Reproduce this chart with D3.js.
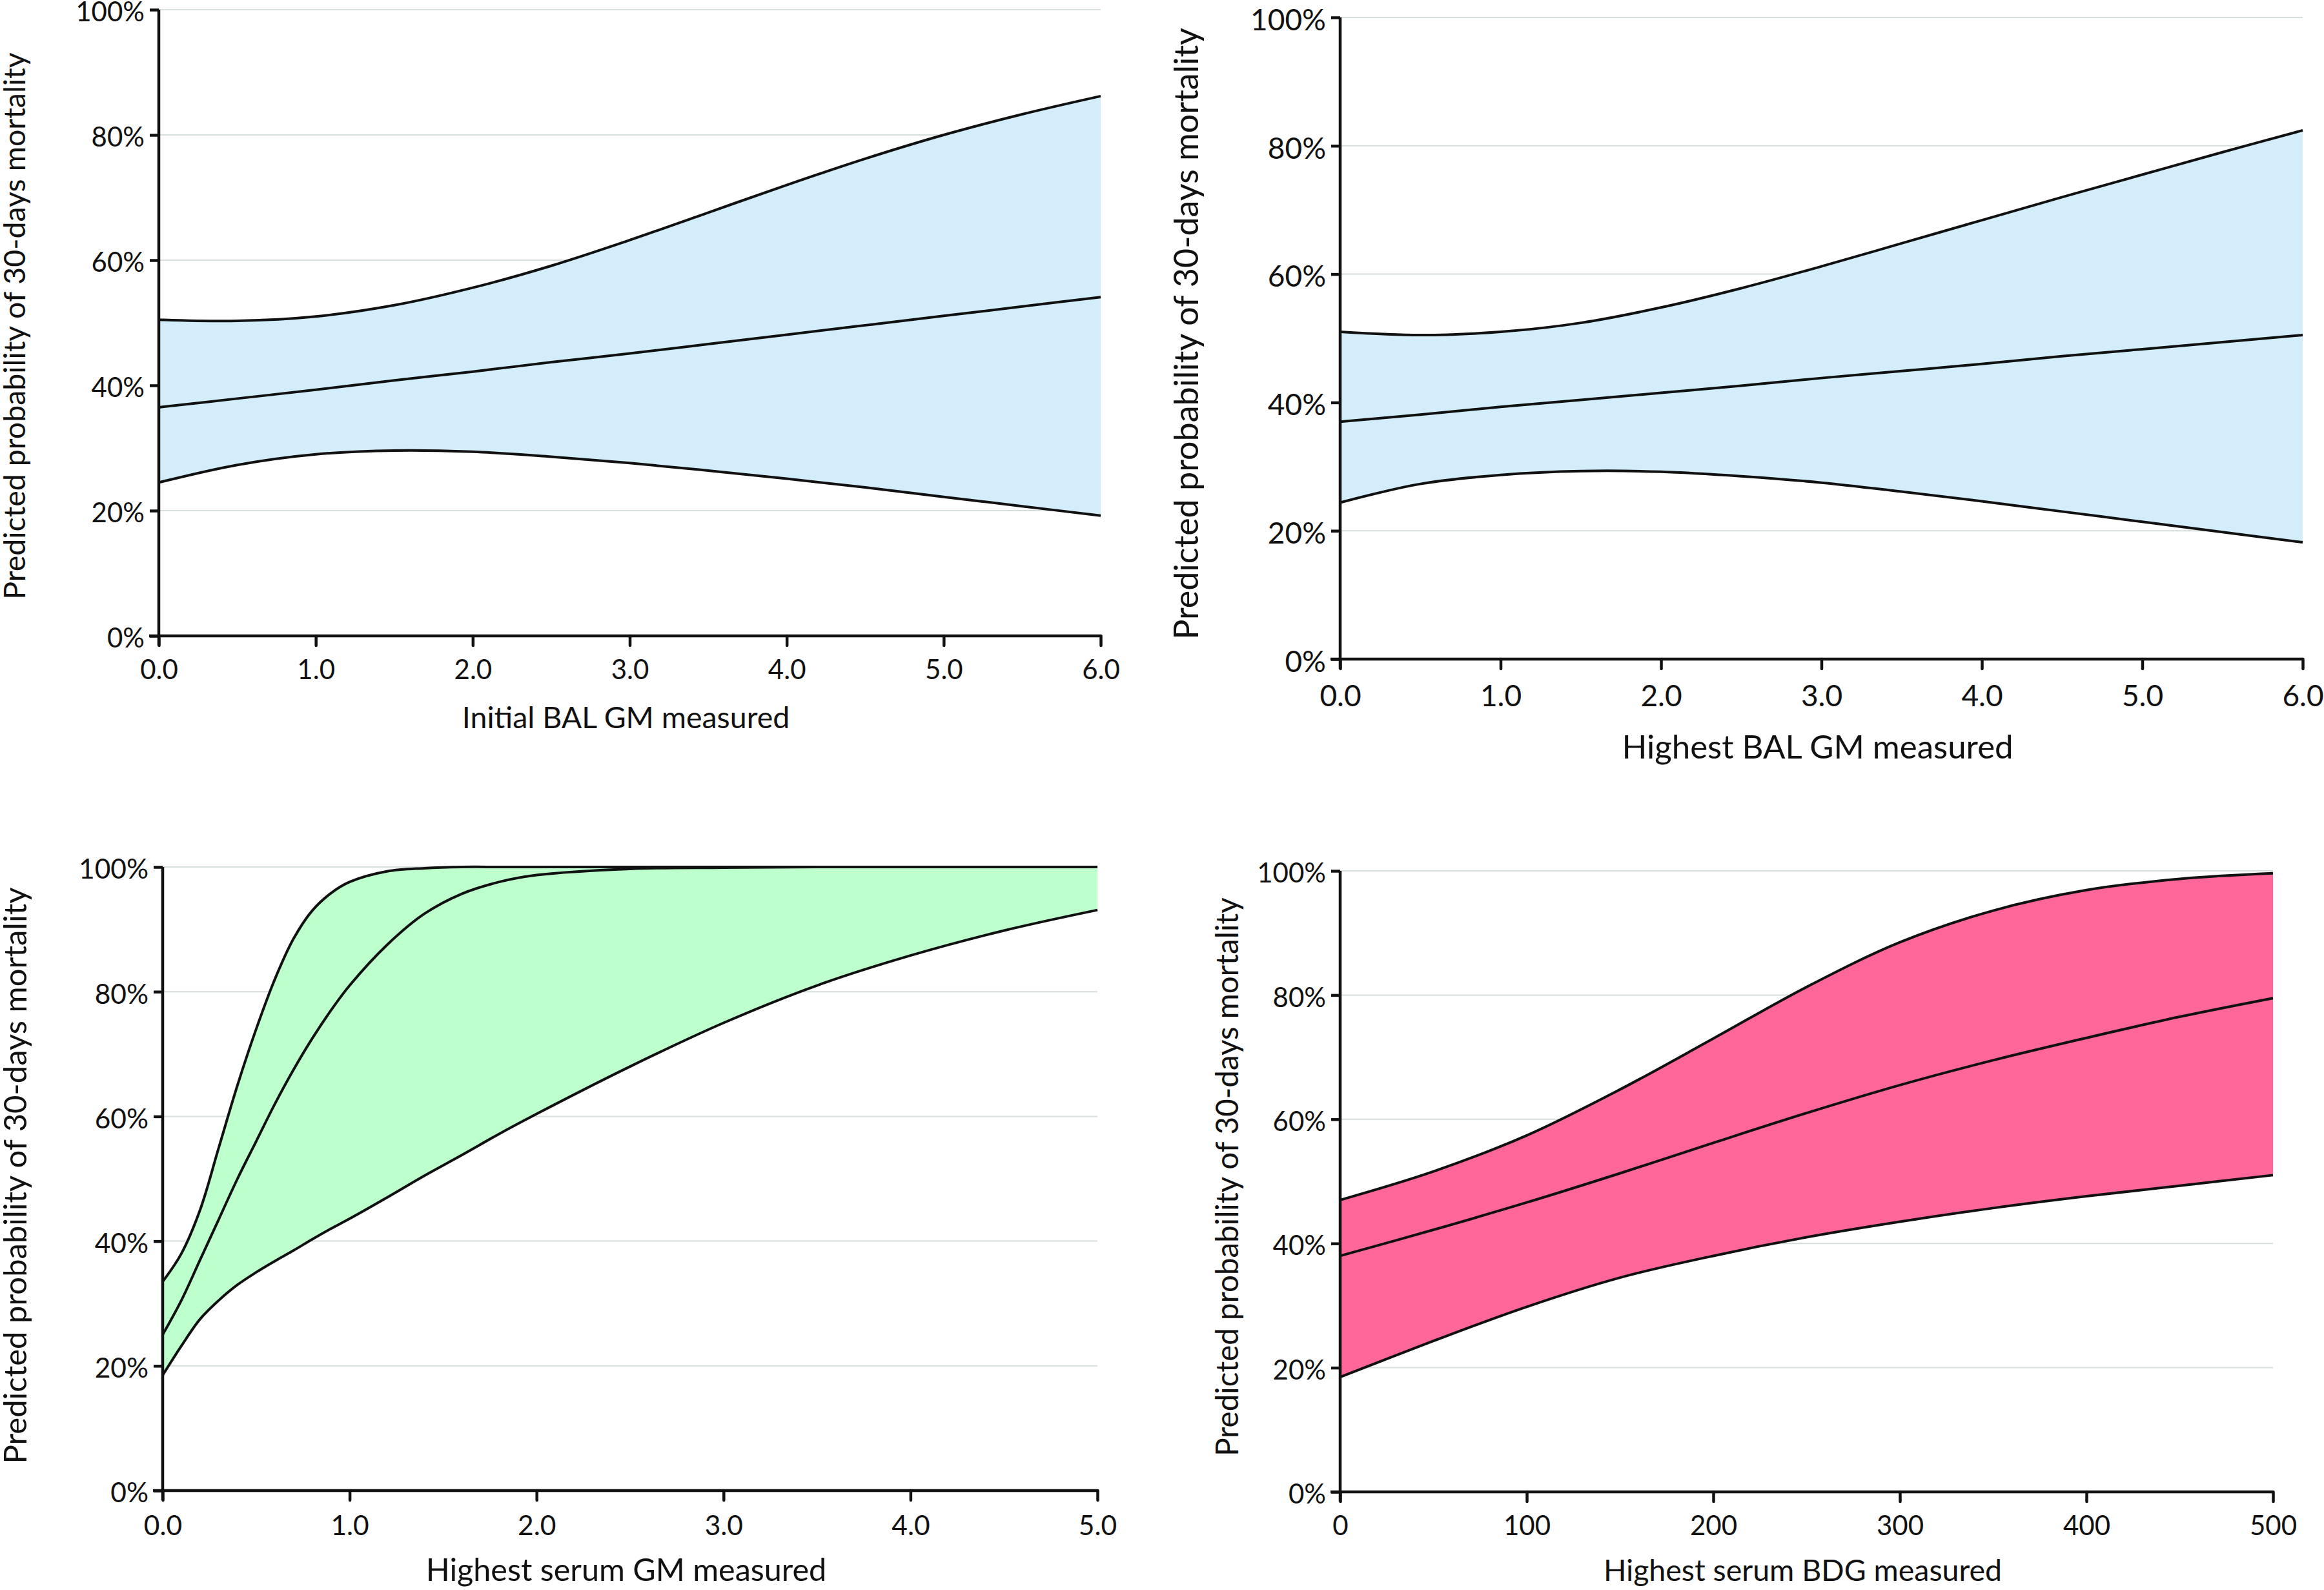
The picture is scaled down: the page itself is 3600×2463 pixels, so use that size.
<!DOCTYPE html>
<html>
<head>
<meta charset="utf-8">
<script src="https://cdn.jsdelivr.net/npm/d3@7"></script>
<style>
  html, body { margin: 0; padding: 0; background: #fff; }
  svg { display: block; }
  text { font-family: Lato, "Open Sans", sans-serif; fill: #111; }
</style>
</head>
<body>
<svg id="chart" width="3600" height="2463"></svg>
<script>
// ---------- DATA ----------
const yTicks = [0, 20, 40, 60, 80, 100];
const yTitle = "Predicted probability of 30-days mortality";

// Panel 1: Initial BAL GM
const p1Title = "Initial BAL GM measured";
const p1XTicks = [0, 1, 2, 3, 4, 5, 6];
const p1X     = [0, 0.5, 1, 1.5, 2, 2.5, 3, 3.5, 4, 4.5, 5, 5.5, 6];
const p1Upper = [50.5, 50.3, 51.0, 52.8, 55.6, 59.1, 63.2, 67.6, 72.0, 76.2, 80.0, 83.3, 86.2];
const p1Mid   = [36.5, 37.9, 39.3, 40.8, 42.2, 43.7, 45.1, 46.6, 48.1, 49.6, 51.1, 52.6, 54.1];
const p1Lower = [24.5, 27.3, 29, 29.6, 29.4, 28.6, 27.6, 26.4, 25.1, 23.7, 22.2, 20.7, 19.2];

// Panel 2: Highest BAL GM
const p2Title = "Highest BAL GM measured";
const p2XTicks = [0, 1, 2, 3, 4, 5, 6];
const p2X     = [0, 0.5, 1, 1.5, 2, 2.5, 3, 3.5, 4, 4.5, 5, 5.5, 6];
const p2Upper = [51, 50.5, 51, 52.4, 54.8, 57.8, 61.2, 64.8, 68.4, 72, 75.5, 79, 82.4];
const p2Mid   = [37, 38.1, 39.3, 40.4, 41.5, 42.6, 43.8, 44.9, 46, 47.2, 48.3, 49.4, 50.5];
const p2Lower = [24.4, 27.3, 28.7, 29.3, 29.2, 28.5, 27.5, 26.1, 24.6, 23, 21.4, 19.8, 18.2];

// Panel 3: Highest serum GM
const p3Title = "Highest serum GM measured";
const p3XTicks = [0, 1, 2, 3, 4, 5];
const p3X     = [0, 0.1, 0.2, 0.3, 0.4, 0.5, 0.6, 0.7, 0.8, 0.9, 1.0, 1.2, 1.4, 1.6, 1.8, 2.0, 2.5, 3.0, 3.5, 4.0, 4.5, 5.0];
const p3Upper = [33.5, 38, 45, 55, 65, 74, 82, 88.5, 93, 95.8, 97.6, 99.3, 99.8, 100, 100, 100, 100, 100, 100, 100, 100, 100];
const p3Mid   = [25, 30.5, 37, 43.5, 50, 56, 62, 67.5, 72.5, 77, 81, 87.5, 92.5, 95.7, 97.6, 98.7, 99.7, 99.9, 100, 100, 100, 100];
const p3Lower = [18.5, 23.2, 27.5, 30.5, 33, 35, 36.8, 38.5, 40.3, 42, 43.6, 47, 50.5, 53.8, 57.2, 60.4, 68, 75, 81, 85.8, 89.8, 93.1];

// Panel 4: Highest serum BDG
const p4Title = "Highest serum BDG measured";
const p4XTicks = [0, 100, 200, 300, 400, 500];
const p4X     = [0, 50, 100, 150, 200, 250, 300, 350, 400, 450, 500];
const p4Upper = [47, 51.6, 57.4, 64.8, 73.0, 81.3, 88.5, 93.6, 96.9, 98.7, 99.6];
const p4Mid   = [38, 42.2, 46.6, 51.3, 56.2, 61, 65.5, 69.5, 73.1, 76.5, 79.5];
const p4Lower = [18.5, 24.3, 29.8, 34.5, 38, 41, 43.5, 45.7, 47.6, 49.3, 51];

// ---------- LAYOUT / STYLE ----------
const panels = [
  { x: p1X, up: p1Upper, mid: p1Mid, lo: p1Lower, xTicks: p1XTicks, title: p1Title, fmt: ".1f",
    left: 246, right: 1705, top: 15, bottom: 985, fill: "#d4edfb",
    tickFs: 42, titleFs: 46.5, yTitleFs: 46.5, yTitleX: 39, yTitleDy: 5, xTitleY: 1128, xTickDy: 67 },
  { x: p2X, up: p2Upper, mid: p2Mid, lo: p2Lower, xTicks: p2XTicks, title: p2Title, fmt: ".1f",
    left: 2076, right: 3567, top: 27, bottom: 1021, fill: "#d4edfb",
    tickFs: 46, titleFs: 51, yTitleFs: 52, yTitleX: 1856, yTitleDy: -7, xTitleY: 1175, xTickDy: 73 },
  { x: p3X, up: p3Upper, mid: p3Mid, lo: p3Lower, xTicks: p3XTicks, title: p3Title, fmt: ".1f",
    left: 252, right: 1700, top: 1343, bottom: 2309, fill: "#bdffcd",
    tickFs: 42.5, titleFs: 48.5, yTitleFs: 49, yTitleX: 41, yTitleDy: -5, xTitleY: 2449, xTickDy: 69 },
  { x: p4X, up: p4Upper, mid: p4Mid, lo: p4Lower, xTicks: p4XTicks, title: p4Title, fmt: "d",
    left: 2076, right: 3521, top: 1349, bottom: 2311, fill: "#ff6699",
    tickFs: 42, titleFs: 46.5, yTitleFs: 47.5, yTitleX: 1918, yTitleDy: -7, xTitleY: 2449, xTickDy: 67 }
];

const svg = d3.select("#chart");

panels.forEach(p => {
  const xs = d3.scaleLinear().domain([p.xTicks[0], p.xTicks[p.xTicks.length - 1]]).range([p.left, p.right]);
  const ys = d3.scaleLinear().domain([0, 100]).range([p.bottom, p.top]);
  const g = svg.append("g");

  // gridlines
  g.append("g").selectAll("line").data(yTicks.filter(t => t > 0)).join("line")
    .attr("x1", p.left).attr("x2", p.right)
    .attr("y1", d => ys(d)).attr("y2", d => ys(d))
    .attr("stroke", "#d6dede").attr("stroke-width", 2);

  const rows = p.x.map((xv, i) => ({ x: xv, up: p.up[i], mid: p.mid[i], lo: p.lo[i] }));
  const curve = d3.curveCatmullRom.alpha(0.5);
  const yc = v => ys(Math.min(100, v));

  g.append("path").datum(rows)
    .attr("d", d3.area().curve(curve).x(d => xs(d.x)).y0(d => yc(d.lo)).y1(d => yc(d.up)))
    .attr("fill", p.fill).attr("stroke", "none");

  ["up", "mid", "lo"].forEach(k => {
    g.append("path").datum(rows)
      .attr("d", d3.line().curve(curve).x(d => xs(d.x)).y(d => yc(d[k])))
      .attr("fill", "none").attr("stroke", "#111").attr("stroke-width", 4)
      .attr("stroke-linejoin", "round");
  });

  // axes
  const xAxis = d3.axisBottom(xs).tickValues(p.xTicks).tickFormat(d3.format(p.fmt))
    .tickSizeInner(15).tickSizeOuter(0).tickPadding(0);
  const yAxis = d3.axisLeft(ys).tickValues(yTicks).tickFormat(d => d + "%")
    .tickSizeInner(14).tickSizeOuter(0).tickPadding(0);

  const gx = g.append("g").attr("transform", `translate(0,${p.bottom})`).call(xAxis);
  gx.select(".domain").attr("stroke", "#111").attr("stroke-width", 4.5)
    .attr("d", `M${p.left - 15},0H${p.right}`);
  gx.selectAll(".tick line").attr("stroke", "#111").attr("stroke-width", 4.5).attr("stroke-linecap", "round");
  gx.selectAll(".tick text").attr("y", p.xTickDy).attr("dy", 0)
    .style("font-size", p.tickFs + "px").attr("font-family", null).attr("fill", "#111");

  const gy = g.append("g").attr("transform", `translate(${p.left},0)`).call(yAxis);
  gy.select(".domain").attr("stroke", "#111").attr("stroke-width", 4.5)
    .attr("d", `M0,${p.top}V${p.bottom + 15}`);
  gy.selectAll(".tick line").attr("stroke", "#111").attr("stroke-width", 4.5);
  gy.selectAll(".tick text").attr("x", -22).attr("dy", "0.42em")
    .style("font-size", p.tickFs + "px").attr("font-family", null).attr("fill", "#111");

  // titles
  g.append("text")
    .attr("x", (p.left + p.right) / 2 - 6).attr("y", p.xTitleY)
    .attr("text-anchor", "middle").style("font-size", p.titleFs + "px")
    .text(p.title);

  g.append("text")
    .attr("transform", `translate(${p.yTitleX},${(p.top + p.bottom) / 2 + p.yTitleDy}) rotate(-90)`)
    .attr("text-anchor", "middle").style("font-size", p.yTitleFs + "px")
    .text(yTitle);
});
</script>
</body>
</html>
